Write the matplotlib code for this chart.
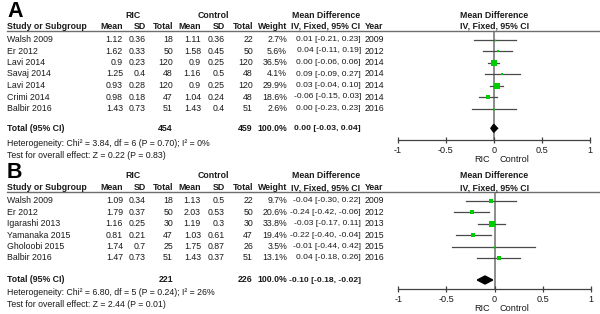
import matplotlib
matplotlib.use("Agg")
import matplotlib.pyplot as plt
from matplotlib.transforms import blended_transform_factory
from matplotlib.patches import Polygon
import numpy as np

plt.rcParams['font.family'] = ['Liberation Sans', 'DejaVu Sans']

# ---------------- Data ----------------
# Panel A
a_studies = ["Walsh 2009", "Er 2012", "Lavi 2014", "Savaj 2014", "Lavi 2014", "Crimi 2014", "Balbir 2016"]
a_ric_mean = ["1.12", "1.62", "0.9", "1.25", "0.93", "0.98", "1.43"]
a_ric_sd = ["0.36", "0.33", "0.23", "0.4", "0.28", "0.18", "0.73"]
a_ric_n = [18, 50, 120, 48, 120, 47, 51]
a_ctl_mean = ["1.11", "1.58", "0.9", "1.16", "0.9", "1.04", "1.43"]
a_ctl_sd = ["0.36", "0.45", "0.25", "0.5", "0.25", "0.24", "0.4"]
a_ctl_n = [22, 50, 120, 48, 120, 48, 51]
a_weight = [2.7, 5.6, 36.5, 4.1, 29.9, 18.6, 2.6]
a_md = [0.01, 0.04, 0.00, 0.09, 0.03, -0.06, 0.00]
a_lo = [-0.21, -0.11, -0.06, -0.09, -0.04, -0.15, -0.23]
a_hi = [0.23, 0.19, 0.06, 0.27, 0.10, 0.03, 0.23]
a_year = [2009, 2012, 2014, 2014, 2014, 2014, 2016]
a_total = (454, 459, 0.00, -0.03, 0.04)
a_het = "Heterogeneity: Chi² = 3.84, df = 6 (P = 0.70); I² = 0%"
a_test = "Test for overall effect: Z = 0.22 (P = 0.83)"

# Panel B
b_studies = ["Walsh 2009", "Er 2012", "Igarashi 2013", "Yamanaka 2015", "Gholoobi 2015", "Balbir 2016"]
b_ric_mean = ["1.09", "1.79", "1.16", "0.81", "1.74", "1.47"]
b_ric_sd = ["0.34", "0.37", "0.25", "0.21", "0.7", "0.73"]
b_ric_n = [18, 50, 30, 47, 25, 51]
b_ctl_mean = ["1.13", "2.03", "1.19", "1.03", "1.75", "1.43"]
b_ctl_sd = ["0.5", "0.53", "0.3", "0.61", "0.87", "0.37"]
b_ctl_n = [22, 50, 30, 47, 26, 51]
b_weight = [9.7, 20.6, 33.8, 19.4, 3.5, 13.1]
b_md = [-0.04, -0.24, -0.03, -0.22, -0.01, 0.04]
b_lo = [-0.30, -0.42, -0.17, -0.40, -0.44, -0.18]
b_hi = [0.22, -0.06, 0.11, -0.04, 0.42, 0.26]
b_year = [2009, 2012, 2013, 2015, 2015, 2016]
b_total = (221, 226, -0.10, -0.18, -0.02)
b_het = "Heterogeneity: Chi² = 6.80, df = 5 (P = 0.24); I² = 26%"
b_test = "Test for overall effect: Z = 2.44 (P = 0.01)"

xticks = [-1, -0.5, 0, 0.5, 1]
xticklabels = ["-1", "-0.5", "0", "0.5", "1"]

# ---------------- Figure ----------------
W, H = 600, 314
fig = plt.figure(figsize=(6.0, 3.14), dpi=100)
FS = 6.3
FS_MD = 6.1
TXT = "#1a1a1a"
GREEN = "#00cc00"


def panel(letter, studies, rm, rsd, rn, cm, csd, cn, wt, md, lo, hi, yr, total, het, test,
          top_y, axis_y, row0, step, total_row, x_left=398, x_right=589.5):
    # forest axes
    ax = fig.add_axes([x_left / W, 1 - axis_y / H, (x_right - x_left) / W, (axis_y - top_y) / H])
    ax.set_xlim(-1, 1)
    ax.set_ylim((axis_y - row0) / step, (top_y - row0) / step)
    for s in ["top", "left", "right"]:
        ax.spines[s].set_visible(False)
    ax.spines["bottom"].set_color("#404040")
    ax.spines["bottom"].set_linewidth(0.9)
    ax.set_yticks([])
    ax.set_xticks(xticks)
    ax.set_xticklabels(xticklabels, fontsize=FS + 0.3, color=TXT)
    ax.tick_params(axis="x", direction="inout", length=5, width=0.9, color="#404040", pad=1.5)
    ax.patch.set_alpha(0)
    ax.axvline(0, color="#8c8c8c", lw=1.4, zorder=1)

    n = len(studies)
    rows = np.arange(n)
    for i in range(n):
        ax.plot([lo[i], hi[i]], [rows[i], rows[i]], color="#4a4a4a", lw=0.9, zorder=2)
        side_px = np.sqrt(wt[i])
        ax.plot(md[i], rows[i], marker="s", ms=side_px * 0.72, color=GREEN,
                mec=GREEN, mew=0, zorder=3)
    # diamond
    tn1, tn2, tmd, tlo, thi = total
    hh = 4.0 / step
    ax.add_patch(Polygon([[tlo, total_row], [tmd, total_row - hh], [thi, total_row],
                          [tmd, total_row + hh]], closed=True, color="black", zorder=3))

    tr = blended_transform_factory(fig.transFigure, ax.transData)

    def t(xpx, row, s, ha="left", bold=False, size=FS):
        fig.text(xpx / W, row, s, transform=tr, ha=ha, va="center", fontsize=size,
                 fontweight="bold" if bold else "normal", color=TXT, clip_on=False)

    def rowof(ypx):
        return (ypx - row0) / step

    # header line
    fig.add_artist(plt.Line2D([7 / W, 1.0], [1 - top_y / H, 1 - top_y / H],
                              color="#6e6e6e", lw=1.0))

    h1 = rowof(top_y - 16)
    h2 = rowof(top_y - 4.5)
    fig.text(7 / W, 1 - (top_y - 19.5) / H, letter, ha="left", va="center",
             fontsize=15.5, fontweight="bold", color="black")
    t(133, h1, "RIC", ha="center", bold=True)
    t(213, h1, "Control", ha="center", bold=True)
    t(326, h1, "Mean Difference", ha="center", bold=True)
    t(494.5, h1, "Mean Difference", ha="center", bold=True)
    t(7, h2, "Study or Subgroup", bold=True)
    t(123, h2, "Mean", ha="right", bold=True)
    t(146, h2, "SD", ha="right", bold=True)
    t(173, h2, "Total", ha="right", bold=True)
    t(201, h2, "Mean", ha="right", bold=True)
    t(225, h2, "SD", ha="right", bold=True)
    t(253, h2, "Total", ha="right", bold=True)
    t(287, h2, "Weight", ha="right", bold=True)
    t(326, h2, "IV, Fixed, 95% CI", ha="center", bold=True)
    t(364.5, h2, "Year", bold=True)
    t(494.5, h2, "IV, Fixed, 95% CI", ha="center", bold=True)

    for i in range(n):
        r = rows[i]
        t(7, r, studies[i])
        t(123, r, rm[i], ha="right")
        t(146, r, rsd[i], ha="right")
        t(173, r, str(rn[i]), ha="right")
        t(201, r, cm[i], ha="right")
        t(225, r, csd[i], ha="right")
        t(253, r, str(cn[i]), ha="right")
        t(287, r, f"{wt[i]:.1f}%", ha="right")
        t(361, r, f"{md[i]:.2f} [{lo[i]:.2f}, {hi[i]:.2f}]", ha="right", size=FS_MD)
        t(364.5, r, str(yr[i]))

    t(7, total_row, "Total (95% CI)", bold=True)
    t(173, total_row, str(tn1), ha="right", bold=True)
    t(253, total_row, str(tn2), ha="right", bold=True)
    t(287, total_row, "100.0%", ha="right", bold=True)
    t(361, total_row, f"{tmd:.2f} [{tlo:.2f}, {thi:.2f}]", ha="right", bold=True, size=FS_MD)
    t(7, rowof(axis_y + 3.5), het)
    t(7, rowof(axis_y + 15), test)

    # favours labels
    t(490, rowof(axis_y + 19), "RIC", ha="right", size=FS + 0.3)
    t(499, rowof(axis_y + 19), "Control", ha="left", size=FS + 0.3)
    return ax


panel("A", a_studies, a_ric_mean, a_ric_sd, a_ric_n, a_ctl_mean, a_ctl_sd, a_ctl_n,
      a_weight, a_md, a_lo, a_hi, a_year, a_total, a_het, a_test,
      top_y=31, axis_y=140, row0=39.5, step=11.5, total_row=(128.3 - 39.5) / 11.5)

panel("B", b_studies, b_ric_mean, b_ric_sd, b_ric_n, b_ctl_mean, b_ctl_sd, b_ctl_n,
      b_weight, b_md, b_lo, b_hi, b_year, b_total, b_het, b_test,
      top_y=192, axis_y=289.3, row0=200.7, step=11.45, total_row=(280 - 200.7) / 11.45,
      x_left=398.3, x_right=591)

fig.savefig("out.png", dpi=100, facecolor="white")
